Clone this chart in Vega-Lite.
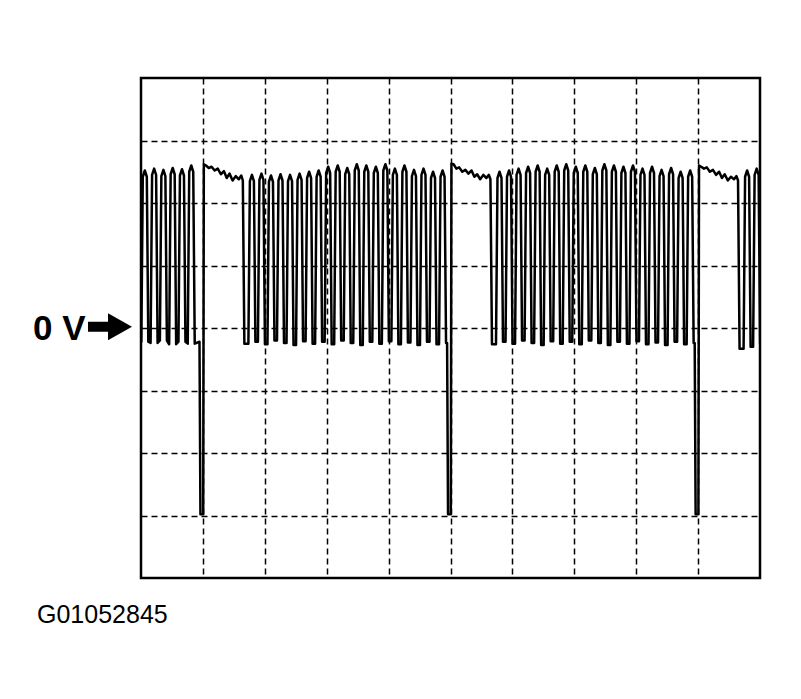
{
  "$schema": "https://vega.github.io/schema/vega-lite/v6.json",
  "width": 619,
  "height": 500,
  "autosize": {"type": "none"},
  "padding": {"left": 141, "top": 78, "right": 41, "bottom": 121},
  "background": "white",
  "config": {
    "view": {"stroke": "black", "strokeWidth": 2.5, "fill": "white"},
    "axis": {"grid": true, "gridColor": "black", "gridDash": [6, 4], "gridWidth": 1.5, "gridOpacity": 1, "labels": false, "ticks": false, "domain": false, "title": null}
  },
  "datasets": {
    "trace": [
      {"t":0,"v":-0.22},
      {"t":0.05,"v":-0.22},{"t":0.29,"v":2.42},{"t":0.62,"v":2.52},{"t":0.94,"v":2.42},{"t":1.18,"v":-0.22},
      {"t":1.55,"v":-0.24},{"t":1.79,"v":2.45},{"t":2.12,"v":2.55},{"t":2.44,"v":2.45},{"t":2.68,"v":-0.24},
      {"t":3.05,"v":-0.2},{"t":3.29,"v":2.43},{"t":3.62,"v":2.53},{"t":3.94,"v":2.43},{"t":4.18,"v":-0.2},
      {"t":4.55,"v":-0.26},{"t":4.79,"v":2.46},{"t":5.12,"v":2.56},{"t":5.44,"v":2.46},{"t":5.68,"v":-0.26},
      {"t":6.05,"v":-0.22},{"t":6.29,"v":2.44},{"t":6.62,"v":2.54},{"t":6.94,"v":2.44},{"t":7.18,"v":-0.22},
      {"t":7.55,"v":-0.25},{"t":7.79,"v":2.5},{"t":8.12,"v":2.6},{"t":8.44,"v":2.5},{"t":8.68,"v":-0.25},
      {"t":9.45,"v":-0.22},{"t":9.6,"v":-2.98},{"t":10.05,"v":-2.98},{"t":10.15,"v":2.62},
      {"t":10.5,"v":2.6},{"t":10.95,"v":2.56},{"t":11.4,"v":2.58},{"t":11.9,"v":2.52},{"t":12.4,"v":2.55},{"t":12.9,"v":2.46},{"t":13.4,"v":2.51},{"t":13.85,"v":2.4},{"t":14.3,"v":2.47},{"t":14.8,"v":2.36},{"t":15.3,"v":2.43},{"t":15.8,"v":2.38},{"t":16.2,"v":2.44},{"t":16.45,"v":2.36},{"t":16.7,"v":-0.25},
      {"t":17.35,"v":-0.25},{"t":17.59,"v":2.35},{"t":17.92,"v":2.45},{"t":18.24,"v":2.35},{"t":18.48,"v":-0.22},
      {"t":18.89,"v":-0.22},{"t":19.13,"v":2.37},{"t":19.46,"v":2.47},{"t":19.78,"v":2.37},{"t":20.02,"v":-0.26},
      {"t":20.43,"v":-0.26},{"t":20.67,"v":2.34},{"t":21.0,"v":2.44},{"t":21.32,"v":2.34},{"t":21.56,"v":-0.2},
      {"t":21.97,"v":-0.2},{"t":22.21,"v":2.36},{"t":22.54,"v":2.46},{"t":22.86,"v":2.36},{"t":23.1,"v":-0.24},
      {"t":23.51,"v":-0.24},{"t":23.75,"v":2.35},{"t":24.08,"v":2.45},{"t":24.4,"v":2.35},{"t":24.64,"v":-0.27},
      {"t":25.05,"v":-0.27},{"t":25.29,"v":2.37},{"t":25.62,"v":2.47},{"t":25.94,"v":2.37},{"t":26.18,"v":-0.21},
      {"t":26.59,"v":-0.21},{"t":26.83,"v":2.4},{"t":27.16,"v":2.5},{"t":27.48,"v":2.4},{"t":27.72,"v":-0.25},
      {"t":28.13,"v":-0.25},{"t":28.37,"v":2.42},{"t":28.7,"v":2.52},{"t":29.02,"v":2.42},{"t":29.26,"v":-0.22},
      {"t":29.67,"v":-0.22},{"t":29.91,"v":2.48},{"t":30.24,"v":2.58},{"t":30.56,"v":2.48},{"t":30.8,"v":-0.26},
      {"t":31.21,"v":-0.26},{"t":31.45,"v":2.5},{"t":31.78,"v":2.6},{"t":32.1,"v":2.5},{"t":32.34,"v":-0.2},
      {"t":32.75,"v":-0.2},{"t":32.99,"v":2.46},{"t":33.32,"v":2.56},{"t":33.64,"v":2.46},{"t":33.88,"v":-0.24},
      {"t":34.29,"v":-0.24},{"t":34.53,"v":2.52},{"t":34.86,"v":2.62},{"t":35.18,"v":2.52},{"t":35.42,"v":-0.27},
      {"t":35.83,"v":-0.27},{"t":36.07,"v":2.5},{"t":36.4,"v":2.6},{"t":36.72,"v":2.5},{"t":36.96,"v":-0.22},
      {"t":37.37,"v":-0.22},{"t":37.61,"v":2.48},{"t":37.94,"v":2.58},{"t":38.26,"v":2.48},{"t":38.5,"v":-0.25},
      {"t":38.91,"v":-0.25},{"t":39.15,"v":2.52},{"t":39.48,"v":2.62},{"t":39.8,"v":2.52},{"t":40.04,"v":-0.21},
      {"t":40.45,"v":-0.21},{"t":40.69,"v":2.45},{"t":41.02,"v":2.55},{"t":41.34,"v":2.45},{"t":41.58,"v":-0.26},
      {"t":41.99,"v":-0.26},{"t":42.23,"v":2.5},{"t":42.56,"v":2.6},{"t":42.88,"v":2.5},{"t":43.12,"v":-0.23},
      {"t":43.53,"v":-0.23},{"t":43.77,"v":2.43},{"t":44.1,"v":2.53},{"t":44.42,"v":2.43},{"t":44.66,"v":-0.27},
      {"t":45.07,"v":-0.27},{"t":45.31,"v":2.45},{"t":45.64,"v":2.55},{"t":45.96,"v":2.45},{"t":46.2,"v":-0.22},
      {"t":46.61,"v":-0.22},{"t":46.85,"v":2.4},{"t":47.18,"v":2.5},{"t":47.5,"v":2.4},{"t":47.74,"v":-0.26},
      {"t":48.15,"v":-0.26},{"t":48.39,"v":2.42},{"t":48.72,"v":2.52},{"t":49.04,"v":2.42},{"t":49.28,"v":-0.24},
      {"t":49.45,"v":-0.24},{"t":49.6,"v":-2.98},{"t":50.05,"v":-2.98},{"t":50.15,"v":2.63},
      {"t":50.5,"v":2.62},{"t":50.95,"v":2.55},{"t":51.4,"v":2.57},{"t":51.9,"v":2.5},{"t":52.4,"v":2.53},{"t":52.9,"v":2.47},{"t":53.4,"v":2.52},{"t":53.85,"v":2.42},{"t":54.3,"v":2.46},{"t":54.8,"v":2.38},{"t":55.3,"v":2.45},{"t":55.8,"v":2.4},{"t":56.2,"v":2.45},{"t":56.45,"v":2.38},{"t":56.7,"v":-0.26},
      {"t":57.35,"v":-0.26},{"t":57.59,"v":2.4},{"t":57.92,"v":2.5},{"t":58.24,"v":2.4},{"t":58.48,"v":-0.22},
      {"t":58.89,"v":-0.22},{"t":59.13,"v":2.42},{"t":59.46,"v":2.52},{"t":59.78,"v":2.42},{"t":60.02,"v":-0.25},
      {"t":60.43,"v":-0.25},{"t":60.67,"v":2.45},{"t":61.0,"v":2.55},{"t":61.32,"v":2.45},{"t":61.56,"v":-0.2},
      {"t":61.97,"v":-0.2},{"t":62.21,"v":2.48},{"t":62.54,"v":2.58},{"t":62.86,"v":2.48},{"t":63.1,"v":-0.24},
      {"t":63.51,"v":-0.24},{"t":63.75,"v":2.5},{"t":64.08,"v":2.6},{"t":64.4,"v":2.5},{"t":64.64,"v":-0.27},
      {"t":65.05,"v":-0.27},{"t":65.29,"v":2.45},{"t":65.62,"v":2.55},{"t":65.94,"v":2.45},{"t":66.18,"v":-0.21},
      {"t":66.59,"v":-0.21},{"t":66.83,"v":2.5},{"t":67.16,"v":2.6},{"t":67.48,"v":2.5},{"t":67.72,"v":-0.25},
      {"t":68.13,"v":-0.25},{"t":68.37,"v":2.52},{"t":68.7,"v":2.62},{"t":69.02,"v":2.52},{"t":69.26,"v":-0.22},
      {"t":69.67,"v":-0.22},{"t":69.91,"v":2.48},{"t":70.24,"v":2.58},{"t":70.56,"v":2.48},{"t":70.8,"v":-0.26},
      {"t":71.21,"v":-0.26},{"t":71.45,"v":2.5},{"t":71.78,"v":2.6},{"t":72.1,"v":2.5},{"t":72.34,"v":-0.2},
      {"t":72.75,"v":-0.2},{"t":72.99,"v":2.46},{"t":73.32,"v":2.56},{"t":73.64,"v":2.46},{"t":73.88,"v":-0.24},
      {"t":74.29,"v":-0.24},{"t":74.53,"v":2.52},{"t":74.86,"v":2.62},{"t":75.18,"v":2.52},{"t":75.42,"v":-0.27},
      {"t":75.83,"v":-0.27},{"t":76.07,"v":2.5},{"t":76.4,"v":2.6},{"t":76.72,"v":2.5},{"t":76.96,"v":-0.22},
      {"t":77.37,"v":-0.22},{"t":77.61,"v":2.48},{"t":77.94,"v":2.58},{"t":78.26,"v":2.48},{"t":78.5,"v":-0.25},
      {"t":78.91,"v":-0.25},{"t":79.15,"v":2.5},{"t":79.48,"v":2.6},{"t":79.8,"v":2.5},{"t":80.04,"v":-0.21},
      {"t":80.45,"v":-0.21},{"t":80.69,"v":2.45},{"t":81.02,"v":2.55},{"t":81.34,"v":2.45},{"t":81.58,"v":-0.26},
      {"t":81.99,"v":-0.26},{"t":82.23,"v":2.48},{"t":82.56,"v":2.58},{"t":82.88,"v":2.48},{"t":83.12,"v":-0.23},
      {"t":83.53,"v":-0.23},{"t":83.77,"v":2.43},{"t":84.1,"v":2.53},{"t":84.42,"v":2.43},{"t":84.66,"v":-0.27},
      {"t":85.07,"v":-0.27},{"t":85.31,"v":2.46},{"t":85.64,"v":2.56},{"t":85.96,"v":2.46},{"t":86.2,"v":-0.22},
      {"t":86.61,"v":-0.22},{"t":86.85,"v":2.4},{"t":87.18,"v":2.5},{"t":87.5,"v":2.4},{"t":87.74,"v":-0.26},
      {"t":88.15,"v":-0.26},{"t":88.39,"v":2.42},{"t":88.72,"v":2.52},{"t":89.04,"v":2.42},{"t":89.28,"v":-0.24},
      {"t":89.45,"v":-0.24},{"t":89.6,"v":-2.98},{"t":90.05,"v":-2.98},{"t":90.15,"v":2.6},
      {"t":90.5,"v":2.58},{"t":90.95,"v":2.55},{"t":91.4,"v":2.57},{"t":91.9,"v":2.5},{"t":92.4,"v":2.53},{"t":92.9,"v":2.45},{"t":93.4,"v":2.5},{"t":93.85,"v":2.4},{"t":94.3,"v":2.46},{"t":94.8,"v":2.36},{"t":95.3,"v":2.42},{"t":95.8,"v":2.38},{"t":96.2,"v":2.43},{"t":96.45,"v":2.36},{"t":96.7,"v":-0.33},
      {"t":97.35,"v":-0.33},{"t":97.59,"v":2.42},{"t":97.92,"v":2.52},{"t":98.24,"v":2.42},{"t":98.48,"v":-0.3},
      {"t":98.89,"v":-0.3},{"t":99.13,"v":2.45},{"t":99.46,"v":2.55},{"t":99.78,"v":2.45},{"t":100.02,"v":-0.25}
    ]
  },
  "layer": [
    {
      "data": {"name": "trace"},
      "mark": {"type": "line", "color": "black", "strokeWidth": 2.5, "strokeJoin": "round", "clip": true},
      "encoding": {
        "x": {"field": "t", "type": "quantitative", "scale": {"domain": [0, 100], "nice": false, "zero": false}, "axis": {"values": [10, 20, 30, 40, 50, 60, 70, 80, 90]}},
        "y": {"field": "v", "type": "quantitative", "scale": {"domain": [-4, 4], "nice": false, "zero": false}, "axis": {"values": [-3, -2, -1, 0, 1, 2, 3]}}
      }
    },
    {
      "data": {"values": [{"t": -5.01, "v": 0.02}]},
      "mark": {"type": "point", "filled": true, "color": "black", "opacity": 1, "size": 1936, "strokeWidth": 0, "clip": false, "shape": "M-1,-0.227L-0.09,-0.227L-0.09,-0.614L1,0L-0.09,0.614L-0.09,0.227L-1,0.227Z"},
      "encoding": {"x": {"field": "t", "type": "quantitative"}, "y": {"field": "v", "type": "quantitative"}}
    },
    {
      "data": {"values": [{"t": -17.45, "v": -0.19, "label": "0 V"}]},
      "mark": {"type": "text", "font": "Liberation Sans", "fontSize": 35, "fontWeight": "bold", "align": "left", "baseline": "alphabetic", "color": "black", "clip": false},
      "encoding": {"x": {"field": "t", "type": "quantitative"}, "y": {"field": "v", "type": "quantitative"}, "text": {"field": "label"}}
    },
    {
      "data": {"values": [{"t": -16.8, "v": -4.72, "label": "G01052845"}]},
      "mark": {"type": "text", "font": "Liberation Sans", "fontSize": 25, "align": "left", "baseline": "alphabetic", "color": "black", "clip": false},
      "encoding": {"x": {"field": "t", "type": "quantitative"}, "y": {"field": "v", "type": "quantitative"}, "text": {"field": "label"}}
    }
  ]
}
